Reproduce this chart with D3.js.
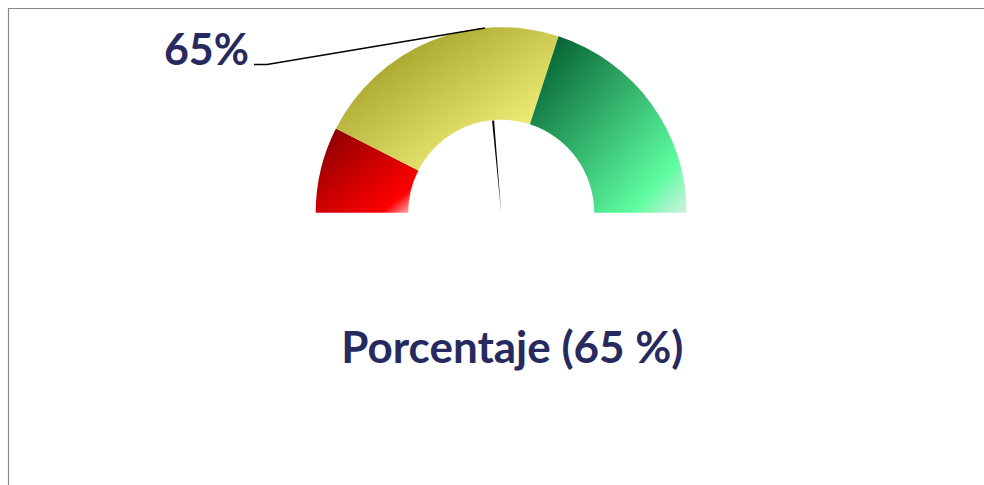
<!DOCTYPE html>
<html>
<head>
<meta charset="utf-8">
<script src="https://cdn.jsdelivr.net/npm/d3@7"></script>
<style>
  html, body { margin: 0; padding: 0; background: #ffffff; }
  svg { display: block; }
</style>
</head>
<body>
<svg id="chart" width="984" height="485"></svg>
<script>
// ---- data ----
const segmentNames = ["Rojo", "Amarillo", "Verde"];
const segmentValues = [15, 45, 40];            // percent of the half gauge
const segmentDark = ["#900000", "#9a9820", "#086636"];
const segmentBright = ["#ff0000", "#f4f27c", "#5dfca0"];
const segmentLight = ["#ffe6e6", "#fbfad0", "#d4f0e2"];
const needleValue = 47.2;                      // needle position
const labelText = "65%";
const titleText = "Porcentaje (65 %)";

// ---- layout ----
const W = 984, H = 485;
const cx = 501.2, cy = 212.7;
const rOuter = 185.5, rInner = 93;
const textColor = "#262a5f";

const svg = d3.select("#chart");

// border (frame of the chart area, partly outside view)
svg.append("path")
  .attr("d", `M8.5,${H} L8.5,8.5 L${W},8.5`)
  .attr("fill", "none")
  .attr("stroke", "#898989")
  .attr("stroke-width", 1.2);

const angle = d3.scaleLinear().domain([0, 100]).range([-Math.PI / 2, Math.PI / 2]);

const pie = d3.pie().sort(null).value(d => d)
  .startAngle(-Math.PI / 2).endAngle(Math.PI / 2);
const arcs = pie(segmentValues);
const arcGen = d3.arc().innerRadius(rInner).outerRadius(rOuter);

const defs = svg.append("defs");
segmentNames.forEach((n, i) => {
  const g = defs.append("linearGradient")
    .attr("id", "grad" + i)
    .attr("x1", 0).attr("y1", 0).attr("x2", 1).attr("y2", 1);
  g.append("stop").attr("offset", 0.1).attr("stop-color", segmentDark[i]);
  g.append("stop").attr("offset", 0.82).attr("stop-color", segmentBright[i]);
  g.append("stop").attr("offset", 1).attr("stop-color", segmentLight[i]);
});

const gauge = svg.append("g").attr("transform", `translate(${cx},${cy})`);
gauge.selectAll("path.seg")
  .data(arcs)
  .join("path")
  .attr("class", "seg")
  .attr("d", arcGen)
  .attr("fill", (d, i) => `url(#grad${i})`);

// needle (thin pie slice)
const na = angle(needleValue);
const needleArc = d3.arc().innerRadius(0).outerRadius(rInner - 0.5)
  .startAngle(na - 0.011).endAngle(na + 0.011);
gauge.append("path").attr("d", needleArc()).attr("fill", "#000");

// leader line from label to needle position on the outer edge
const tx = cx + rOuter * Math.sin(na), ty = cy - rOuter * Math.cos(na);
svg.append("path")
  .attr("d", `M254,64.5 L267,64.5 L${tx},${ty}`)
  .attr("fill", "none")
  .attr("stroke", "#000")
  .attr("stroke-width", 1.5);

svg.append("text")
  .attr("x", 249).attr("y", 65)
  .attr("text-anchor", "end")
  .attr("font-family", "Lato, 'Open Sans', sans-serif")
  .attr("font-weight", "bold")
  .attr("font-size", 43)
  .attr("fill", textColor)
  .text(labelText);

svg.append("text")
  .attr("x", 512.4).attr("y", 363.3)
  .attr("text-anchor", "middle")
  .attr("font-family", "Lato, 'Open Sans', sans-serif")
  .attr("font-weight", "bold")
  .attr("font-size", 44)
  .attr("fill", textColor)
  .text(titleText);
</script>
</body>
</html>
